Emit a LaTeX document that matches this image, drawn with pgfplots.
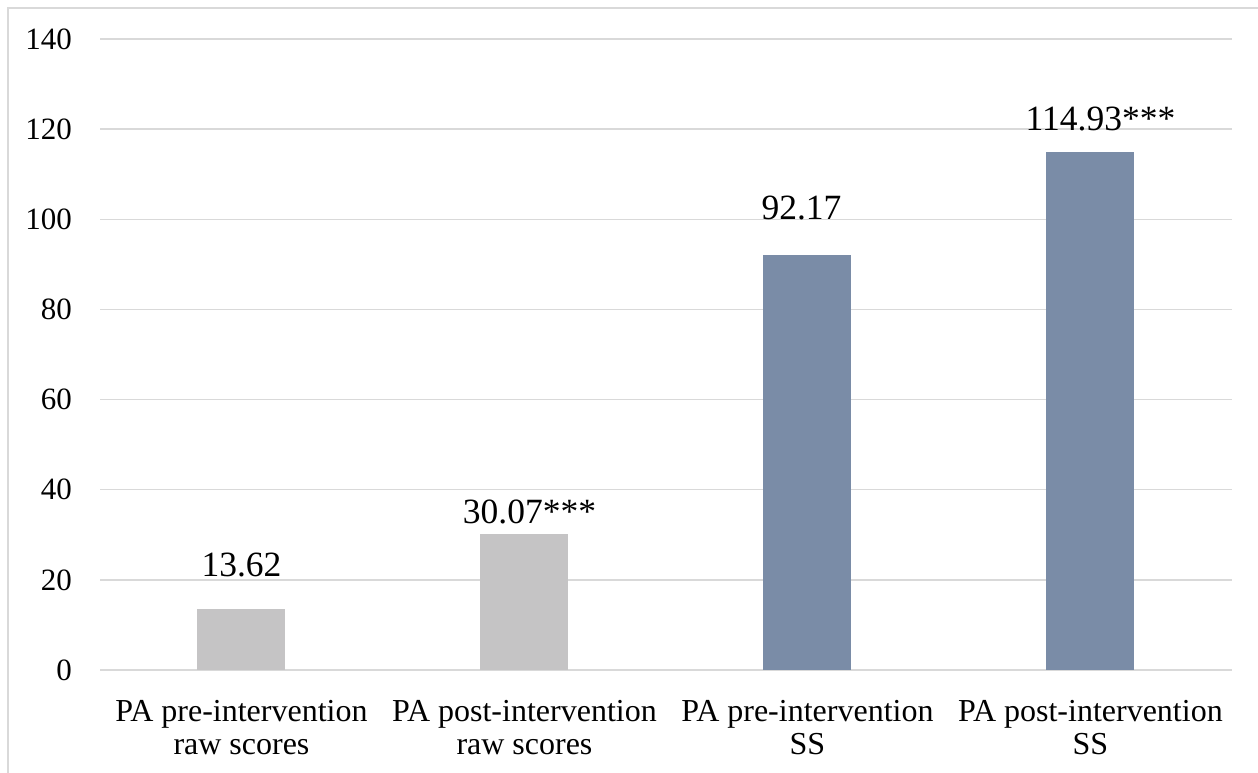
\documentclass[border=0pt]{standalone}
\usepackage{pgfplots}
\pgfplotsset{compat=1.18}
\usepackage{fontspec}
\setmainfont{Liberation Serif}

\definecolor{rawgray}{HTML}{C5C4C5}
\definecolor{ssblue}{HTML}{7A8CA7}
\definecolor{gridgray}{HTML}{D9D9D9}

\begin{document}
\begin{tikzpicture}[x=1pt,y=1pt]
\path[use as bounding box] (0,0) rectangle (1258,773);
\begin{scope}
\clip (0,0) rectangle (1258,773);
\draw[gridgray, line width=2pt] (8,-20) -- (8,765) -- (1280,765);
\end{scope}
\begin{axis}[
    at={(100pt,103pt)}, anchor=south west,
    scale only axis,
    width=1132pt, height=631pt,
    ybar, bar width=88pt, bar shift=0pt,
    xmin=-0.5, xmax=3.5,
    ymin=0, ymax=140,
    ytick={0,20,...,140},
    xtick={0,1,2,3},
    xticklabels={{PA pre-intervention\\raw scores},{PA post-intervention\\raw scores},{PA pre-intervention\\SS},{PA post-intervention\\SS}},
    axis line style={draw=none},
    ymajorgrids,
    grid style={gridgray, line width=1.5pt},
    major tick length=0pt,
    tick style={draw=none},
    /pgf/number format/assume math mode=true,
    yticklabel style={font=\fontsize{31}{36}\selectfont, inner sep=0pt, anchor=east, xshift=-28pt},
    xticklabel style={font=\fontsize{32}{33}\selectfont, align=center, inner sep=0pt, anchor=north, yshift=-30pt},
    point meta=explicit symbolic,
    nodes near coords,
    nodes near coords style={font=\fontsize{35.5}{40}\selectfont, anchor=south, inner sep=0pt, text=black},
    clip=false,
]
\addplot[fill=rawgray, draw=none,
  every node near coord/.append style={yshift=31pt}]
  coordinates {(0,13.62) [13.62]};
\addplot[fill=rawgray, draw=none,
  every node near coord/.append style={xshift=5pt, yshift=10pt}]
  coordinates {(1,30.07) [30.07***]};
\addplot[fill=ssblue, draw=none,
  every node near coord/.append style={xshift=-6pt, yshift=34pt}]
  coordinates {(2,92.17) [92.17]};
\addplot[fill=ssblue, draw=none,
  every node near coord/.append style={xshift=10pt, yshift=21pt}]
  coordinates {(3,114.93) [114.93***]};
\end{axis}
\end{tikzpicture}
\end{document}
